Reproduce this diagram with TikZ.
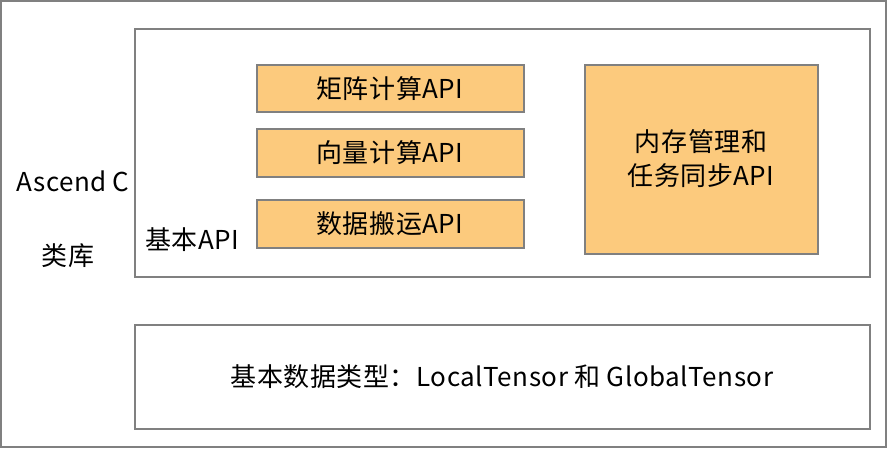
\documentclass[tikz,border=0pt]{standalone}
\usepackage{fontspec}
\setmainfont{Noto Sans CJK SC}
\definecolor{fillo}{HTML}{FCCA7D}
\definecolor{edge}{HTML}{808080}
\begin{document}
\begin{tikzpicture}[x=1pt,y=-1pt,
  frame/.style={draw=edge,line width=1.2pt},
  apibox/.style={draw=edge,line width=1.2pt,fill=fillo},
  lbl/.style={font=\fontsize{26}{34}\selectfont\addfontfeatures{LetterSpace=2},text=black,align=center,inner sep=0pt}]
\useasboundingbox (0,0) rectangle (888,449);
\draw[frame] (1,1) rectangle (886,447);
\draw[frame] (135,29) rectangle (870,277);
\draw[frame] (135,325) rectangle (870,429);
\draw[apibox] (257,65) rectangle (524,112);
\draw[apibox] (257,129) rectangle (524,177);
\draw[apibox] (257,200) rectangle (524,248);
\draw[apibox] (585,65) rectangle (818,254);
\node[lbl] (a) at (390,89) {矩阵计算API};
\node[lbl] (b) at (390,153) {向量计算API};
\node[lbl] (c) at (390,224) {数据搬运API};
\node[lbl] (d) at (701,159) {内存管理和\\任务同步API};
\node[lbl] (e) at (73,181) {Ascend C};
\node[lbl] (f) at (68,256) {类库};
\node[lbl] (g) at (192,240) {基本API};
\node[lbl] (h) at (502,377) {基本数据类型：LocalTensor 和 GlobalTensor};
\end{tikzpicture}
\end{document}
